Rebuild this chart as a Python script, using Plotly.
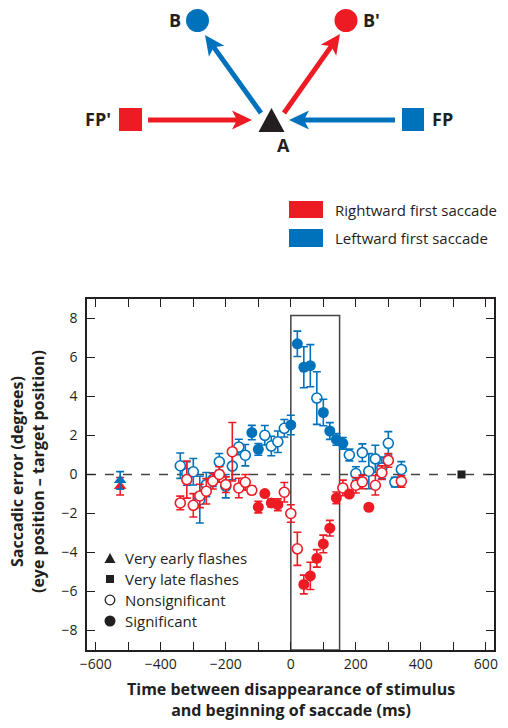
import math
import plotly.graph_objects as go

BLUE = "#0072BC"
RED = "#ED1C24"
DARK = "#231F20"
FONT = "Open Sans"

# ---------------- data ----------------
blue_t = [-340, -320, -300, -280, -260, -240, -220, -200, -180, -160, -140, -120, -100, -80, -60, -40, -20, 0,
          20, 40, 60, 80, 100, 120, 140, 160, 180, 200, 220, 240, 260, 280, 300, 320, 340]
blue_err = [0.45, 0.05, 0.14, -1.29, -0.52, -0.26, 0.65, -0.6, 0.43, 1.41, 0.99, 2.15, 1.29, 2.01, 1.46, 1.68, 2.37, 2.54,
            6.7, 5.5, 5.58, 3.92, 3.18, 2.23, 1.8, 1.6, 1.0, 0.05, 1.12, 0.17, 0.8, 0.34, 1.6, -0.39, 0.26]
blue_sem = [0.65, 0.6, 0.68, 1.2, 0.62, 0.35, 0.43, 0.6, 0.7, 0.4, 0.55, 0.37, 0.3, 0.5, 0.5, 0.55, 0.45, 0.5,
            0.65, 1.05, 1.08, 1.35, 0.68, 0.43, 0.3, 0.3, 0.3, 0.35, 0.45, 0.9, 0.7, 0.55, 0.6, 0.25, 0.4]
blue_sig = [0, 0, 0, 0, 0, 0, 0, 0, 0, 0, 0, 1, 1, 0, 0, 0, 0, 1,
            1, 1, 1, 0, 1, 1, 1, 1, 0, 0, 0, 0, 0, 0, 0, 0, 0]

red_t = [-340, -320, -300, -280, -260, -240, -220, -200, -180, -160, -140, -120, -100, -80, -60, -40, -20, 0,
         20, 40, 60, 80, 100, 120, 140, 160, 180, 200, 220, 240, 260, 280, 300, 340]
red_err = [-1.46, -0.26, -1.58, -1.1, -0.86, -0.34, 0.0, -0.52, 1.17, -0.69, -0.4, -0.81, -1.67, -0.98, -1.46, -1.55, -0.91, -2.0,
           -3.81, -5.64, -5.2, -4.3, -3.56, -2.75, -1.2, -0.69, -1.0, -0.55, -0.38, -1.68, -0.55, 0.09, 0.72, -0.35]
red_sem = [0.35, 0.95, 0.6, 0.6, 0.65, 0.4, 0.4, 0.4, 1.5, 0.5, 0.4, 0.2, 0.3, 0.15, 0.2, 0.3, 0.5, 0.45,
           0.85, 0.48, 0.7, 0.45, 0.45, 0.4, 0.3, 0.4, 0.15, 0.4, 0.35, 0.15, 0.5, 0.35, 0.35, 0.3]
red_sig = [0, 0, 0, 0, 0, 0, 0, 0, 0, 0, 0, 0, 1, 1, 1, 1, 0, 0,
           0, 1, 1, 1, 1, 1, 1, 0, 1, 0, 0, 1, 0, 0, 0, 0]

early_t = [-525]
early_blue, early_blue_sem = [-0.3], [0.45]
early_red, early_red_sem = [-0.6], [0.45]
late_t = [525]
late_err = [0.0]

x_tickvals = list(range(-600, 601, 100))
x_ticktext = ["\u2212600", "", "\u2212400", "", "\u2212200", "", "0", "", "200", "", "400", "", "600"]
y_tickvals = list(range(-8, 9, 2))
window = [0, 150]  # highlighted saccade window (ms)

legend_labels = ["Very early flashes", "Very late flashes", "Nonsignificant", "Significant"]
saccade_labels = ["Rightward first saccade", "Leftward first saccade"]

fig = go.Figure()


def add_series(t, y, s, sig, color):
    for flag in (0, 1):
        xs = [a for a, g in zip(t, sig) if g == flag]
        ys = [b for b, g in zip(y, sig) if g == flag]
        es = [c for c, g in zip(s, sig) if g == flag]
        fig.add_trace(go.Scatter(
            x=xs, y=ys, mode="markers",
            error_y=dict(type="data", array=es, visible=True, color=color, thickness=1.6, width=4),
            marker=dict(symbol="circle", size=11 if flag else 10,
                        color=color if flag else "white",
                        line=dict(color=color, width=1.6 if not flag else 0)),
            cliponaxis=False, hoverinfo="skip"))


add_series(blue_t, blue_err, blue_sem, blue_sig, BLUE)
add_series(red_t, red_err, red_sem, red_sig, RED)

fig.add_trace(go.Scatter(x=early_t, y=early_red, mode="markers",
                         error_y=dict(type="data", array=early_red_sem, color=RED, thickness=1.6, width=4),
                         marker=dict(symbol="triangle-up", size=11, color=RED)))
fig.add_trace(go.Scatter(x=early_t, y=early_blue, mode="markers",
                         error_y=dict(type="data", array=early_blue_sem, color=BLUE, thickness=1.6, width=4),
                         marker=dict(symbol="triangle-up", size=11, color=BLUE)))
fig.add_trace(go.Scatter(x=late_t, y=late_err, mode="markers",
                         marker=dict(symbol="square", size=8, color=DARK)))

# invisible trace to create the pixel-coordinate overlay subplot
fig.add_trace(go.Scatter(x=[], y=[], xaxis="x2", yaxis="y2"))

shapes = []
annotations = []

# zero line and window box
shapes.append(dict(type="line", xref="paper", yref="y", x0=0, x1=1, y0=0, y1=0,
                   line=dict(color="#444", width=1.5, dash="dash"), layer="below"))
shapes.append(dict(type="rect", xref="x", yref="y", x0=window[0], x1=window[1], y0=-9, y1=8.15,
                   line=dict(color="#444", width=1.5), layer="below"))

# ---------------- diagram (pixel coordinates on overlay axes x2/y2) ----------------
def arrow(x0, y0, x1, y1, color, hl=20, hw=9.5, notch=5, lw=5):
    dx, dy = x1 - x0, y1 - y0
    L = math.hypot(dx, dy)
    ux, uy = dx / L, dy / L
    nx, ny = -uy, ux
    bx, by = x1 - ux * (hl - notch - 1), y1 - uy * (hl - notch - 1)
    shapes.append(dict(type="line", xref="x2", yref="y2", x0=x0, y0=y0, x1=bx, y1=by,
                       line=dict(color=color, width=lw)))
    p1 = (x1 - ux * hl + nx * hw, y1 - uy * hl + ny * hw)
    p2 = (x1 - ux * (hl - notch), y1 - uy * (hl - notch))
    p3 = (x1 - ux * hl - nx * hw, y1 - uy * hl - ny * hw)
    path = f"M {x1},{y1} L {p1[0]},{p1[1]} L {p2[0]},{p2[1]} L {p3[0]},{p3[1]} Z"
    shapes.append(dict(type="path", xref="x2", yref="y2", path=path,
                       fillcolor=color, line=dict(color=color, width=0)))


def circle(cx, cy, r, color, filled=True, lw=0):
    shapes.append(dict(type="circle", xref="x2", yref="y2", x0=cx - r, x1=cx + r, y0=cy - r, y1=cy + r,
                       fillcolor=color if filled else "white",
                       line=dict(color=color, width=lw)))


def rect(x0, y0, x1, y1, color):
    shapes.append(dict(type="rect", xref="x2", yref="y2", x0=x0, x1=x1, y0=y0, y1=y1,
                       fillcolor=color, line=dict(width=0)))


def tri(cx, cy, w, h, color):
    path = f"M {cx - w/2},{cy + h/2} L {cx + w/2},{cy + h/2} L {cx},{cy - h/2} Z"
    shapes.append(dict(type="path", xref="x2", yref="y2", path=path, fillcolor=color, line=dict(width=0)))


def label(x, y, text, size=18, bold=True, xanchor="center"):
    annotations.append(dict(xref="x2", yref="y2", x=x, y=y, text=f"<b>{text}</b>" if bold else text,
                            showarrow=False, xanchor=xanchor, yanchor="middle",
                            font=dict(family=FONT, size=size, color=DARK)))


circle(197.5, 20.5, 11.5, BLUE)
circle(346, 20.5, 11.5, RED)
label(175, 20, "B")
label(371, 20, "B'")
rect(119, 108, 142, 131, RED)
rect(402, 108, 424, 131, BLUE)
label(98, 119, "FP'")
label(442, 119, "FP")
tri(271.5, 120, 26, 24, DARK)
label(283, 145, "A")
arrow(148, 120, 252, 120, RED)
arrow(395, 120, 289, 120, BLUE)
arrow(261, 113, 205, 35, BLUE)
arrow(284, 113, 340, 34, RED)

rect(289, 201, 323, 218, RED)
rect(289, 229, 323, 247, BLUE)
label(333, 210, saccade_labels[0], size=15, bold=False, xanchor="left")
label(333, 238, saccade_labels[1], size=15, bold=False, xanchor="left")

# in-plot legend keys
tri(110, 558, 11, 10, DARK)
rect(106, 575, 114, 583, DARK)
circle(110, 600, 4.8, DARK, filled=False, lw=1.3)
circle(110, 621, 5.5, DARK)
for i, txt in enumerate(legend_labels):
    label(123, 557.5 + 21.2 * i, txt, size=15, bold=False, xanchor="left")

# axis titles
annotations.append(dict(xref="paper", yref="paper", x=0.5, y=-0.0754, xanchor="center", yanchor="middle",
                        text="<b>Time between disappearance of stimulus<br>and beginning of saccade (ms)</b>",
                        showarrow=False, font=dict(family=FONT, size=16, color=DARK)))
annotations.append(dict(xref="paper", yref="paper", x=(27 - 87) / 407, y=(650 - 472) / 650,
                        xanchor="center", yanchor="middle", textangle=-90,
                        text="<b>Saccadic error (degrees)<br>(eye position \u2013 target position)</b>",
                        showarrow=False, font=dict(family=FONT, size=16, color=DARK)))

axis_common = dict(ticks="inside", ticklen=8, tickwidth=1.3, tickcolor=DARK, showline=True,
                   linecolor=DARK, linewidth=1.5, mirror="ticks", showgrid=False, zeroline=False,
                   tickfont=dict(family=FONT, size=14, color=DARK))

fig.update_layout(
    width=508, height=728,
    margin=dict(l=87, r=14, t=0, b=78),
    paper_bgcolor="white", plot_bgcolor="rgba(0,0,0,0)",
    showlegend=False,
    font=dict(family=FONT, color=DARK),
    xaxis=dict(domain=[0, 1], range=[-627, 625], tickvals=x_tickvals, ticktext=x_ticktext,
               anchor="y", ticklabelstandoff=0, **axis_common),
    yaxis=dict(domain=[0, 0.54], range=[-9, 9], tickvals=y_tickvals, anchor="x",
               ticklabelstandoff=5, **axis_common),
    xaxis2=dict(domain=[0, 1], range=[87, 494], visible=False, anchor="y2", fixedrange=True),
    yaxis2=dict(domain=[0, 1], range=[650, 0], visible=False, anchor="x2", fixedrange=True),
    shapes=shapes,
    annotations=annotations,
)

fig.write_html("out.html", config={"displayModeBar": False},
               post_script="document.body.style.margin='0px';")
